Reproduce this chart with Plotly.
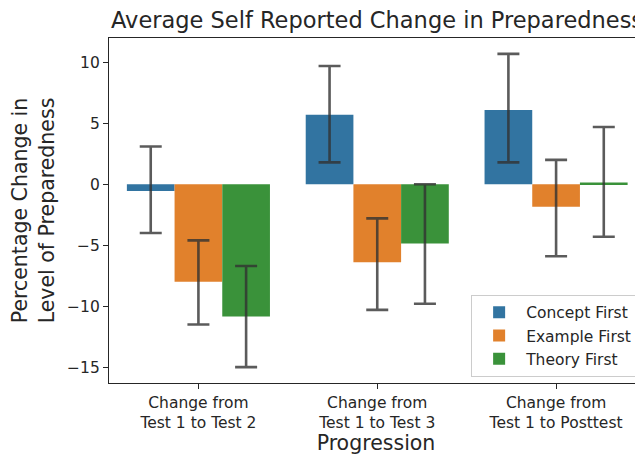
import plotly.graph_objects as go

categories = ["Change from<br>Test 1 to Test 2", "Change from<br>Test 1 to Test 3", "Change from<br>Test 1 to Posttest"]
series = ["Concept First", "Example First", "Theory First"]
means = {
    "Concept First": [-0.55, 5.7, 6.1],
    "Example First": [-8.0, -6.4, -1.85],
    "Theory First": [-10.85, -4.85, 0.15],
}
err_low = {
    "Concept First": [-4.0, 1.8, 1.8],
    "Example First": [-11.5, -10.3, -5.9],
    "Theory First": [-15.0, -9.8, -4.3],
}
err_high = {
    "Concept First": [3.1, 9.7, 10.7],
    "Example First": [-4.6, -2.8, 2.0],
    "Theory First": [-6.7, 0.0, 4.7],
}
colors = {"Concept First": "#3274a1", "Example First": "#e1812c", "Theory First": "#3a923a"}
ytick_vals = [10, 5, 0, -5, -10, -15]
ytick_text = ["10", "5", "0", "\u22125", "\u221210", "\u221215"]

txt = "#262626"
fig = go.Figure()
for s in series:
    m = means[s]
    fig.add_trace(go.Bar(
        name=s, x=categories, y=m,
        marker=dict(color=colors[s], line=dict(width=0)),
        error_y=dict(type="data", symmetric=False,
                     array=[h - v for h, v in zip(err_high[s], m)],
                     arrayminus=[v - l for v, l in zip(m, err_low[s])],
                     color="rgba(50,50,50,0.8)", thickness=2.6, width=11),
    ))

fig.update_layout(
    width=635, height=447,
    margin=dict(l=101, r=0, t=30, b=72, autoexpand=False),
    paper_bgcolor="white", plot_bgcolor="white",
    barmode="group", bargap=0.2, bargroupgap=0,
    font=dict(family="DejaVu Sans", color=txt),
    showlegend=True,
    legend=dict(x=0.989, y=0.018, xanchor="right", yanchor="bottom",
                bordercolor="#cccccc", borderwidth=1, bgcolor="rgba(255,255,255,0.8)",
                font=dict(size=15.5, color=txt), tracegroupgap=2, itemwidth=44),
    xaxis=dict(range=[-0.5, 2.486], showline=True, linecolor=txt, linewidth=1.2,
               mirror=True, ticks="outside", ticklen=5, tickcolor=txt, automargin=False,
               tickfont=dict(size=15.5, color=txt), showgrid=False, zeroline=False,
               title=dict(text="Progression", font=dict(size=20.5, color=txt), standoff=0)),
    yaxis=dict(range=[-16.3, 12.0], showline=True, linecolor=txt, linewidth=1.2,
               mirror=False, ticks="outside", ticklen=5, tickcolor=txt, automargin=False,
               tickvals=ytick_vals, ticktext=ytick_text,
               tickfont=dict(size=15.5, color=txt), showgrid=False, zeroline=False,
               title=dict(text="Percentage Change in<br>Level of Preparedness",
                          font=dict(size=20.5, color=txt), standoff=8)),
    annotations=[dict(text="Average Self Reported Change in Preparedness",
                      xref="x", yref="paper", x=1, y=1, yshift=3,
                      xanchor="center", yanchor="bottom", showarrow=False,
                      font=dict(size=22.5, color=txt))],
)
fig.write_html("out.html")
